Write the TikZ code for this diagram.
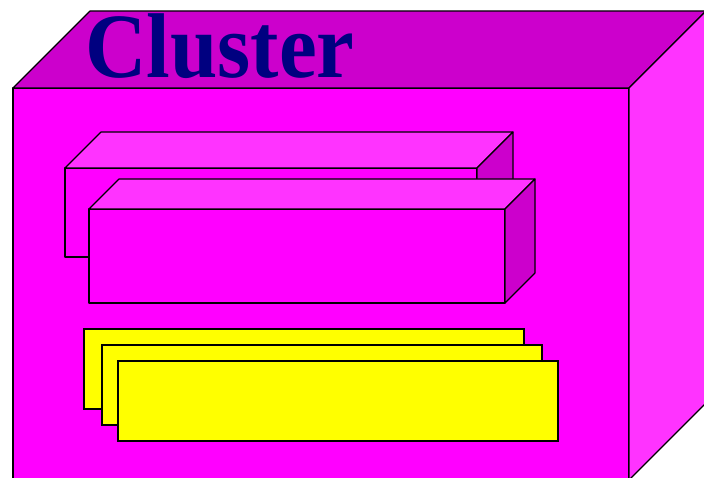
\documentclass[tikz,border=0pt]{standalone}
\usepackage{fontspec}
\setmainfont{Liberation Serif}
\usetikzlibrary{positioning}
\definecolor{clfront}{RGB}{255,0,255}
\definecolor{cldark}{RGB}{204,0,204}
\definecolor{cllight}{RGB}{255,51,255}
\definecolor{clnavy}{RGB}{0,0,128}
\definecolor{clcard}{RGB}{255,255,0}
\tikzset{
  face/.style={draw=black,line width=1.1pt,line join=round},
  card/.style={draw=black,line width=1.8pt,fill=clcard,minimum width=440pt,
    minimum height=80pt,inner sep=0pt,anchor=north west},
  title/.style={font=\fontsize{92}{92}\selectfont\bfseries,text=clnavy,inner sep=0pt,xscale=0.925},
}
% #1,#2 front top-left, #3 width, #4 height, #5 depth, #6 top fill, #7 side fill
\newcommand{\cuboid}[7]{%
  \filldraw[face,fill=clfront] (#1,#2) rectangle ++(#3,#4);
  \filldraw[face,fill=#6] (#1,#2) -- ++(#5,-#5) -- ++(#3,0) -- ++(-#5,#5) -- cycle;
  \filldraw[face,fill=#7] (#1+#3,#2) -- ++(#5,-#5) -- ++(0,#4) -- ++(-#5,#5) -- cycle;
}

\begin{document}
\begin{tikzpicture}[x=1pt,y=-1pt]
  \clip (0,0) rectangle (704,478);
  \fill[white] (0,0) rectangle (704,478);
  % outer cluster
  \cuboid{13}{88}{616}{392}{77}{cldark}{cllight}
  \node[title,anchor=base west] (title) at (85,78) {Cluster};
  % inner boxes
  \cuboid{65}{168}{412}{89}{36}{cllight}{cldark}
  \cuboid{89}{209}{416}{94}{30}{cllight}{cldark}
  % stacked cards
  \node[card] (card1) at (83,328) {};
  \node[card] (card2) at (101,344) {};
  \node[card] (card3) at (117,360) {};
\end{tikzpicture}
\end{document}
